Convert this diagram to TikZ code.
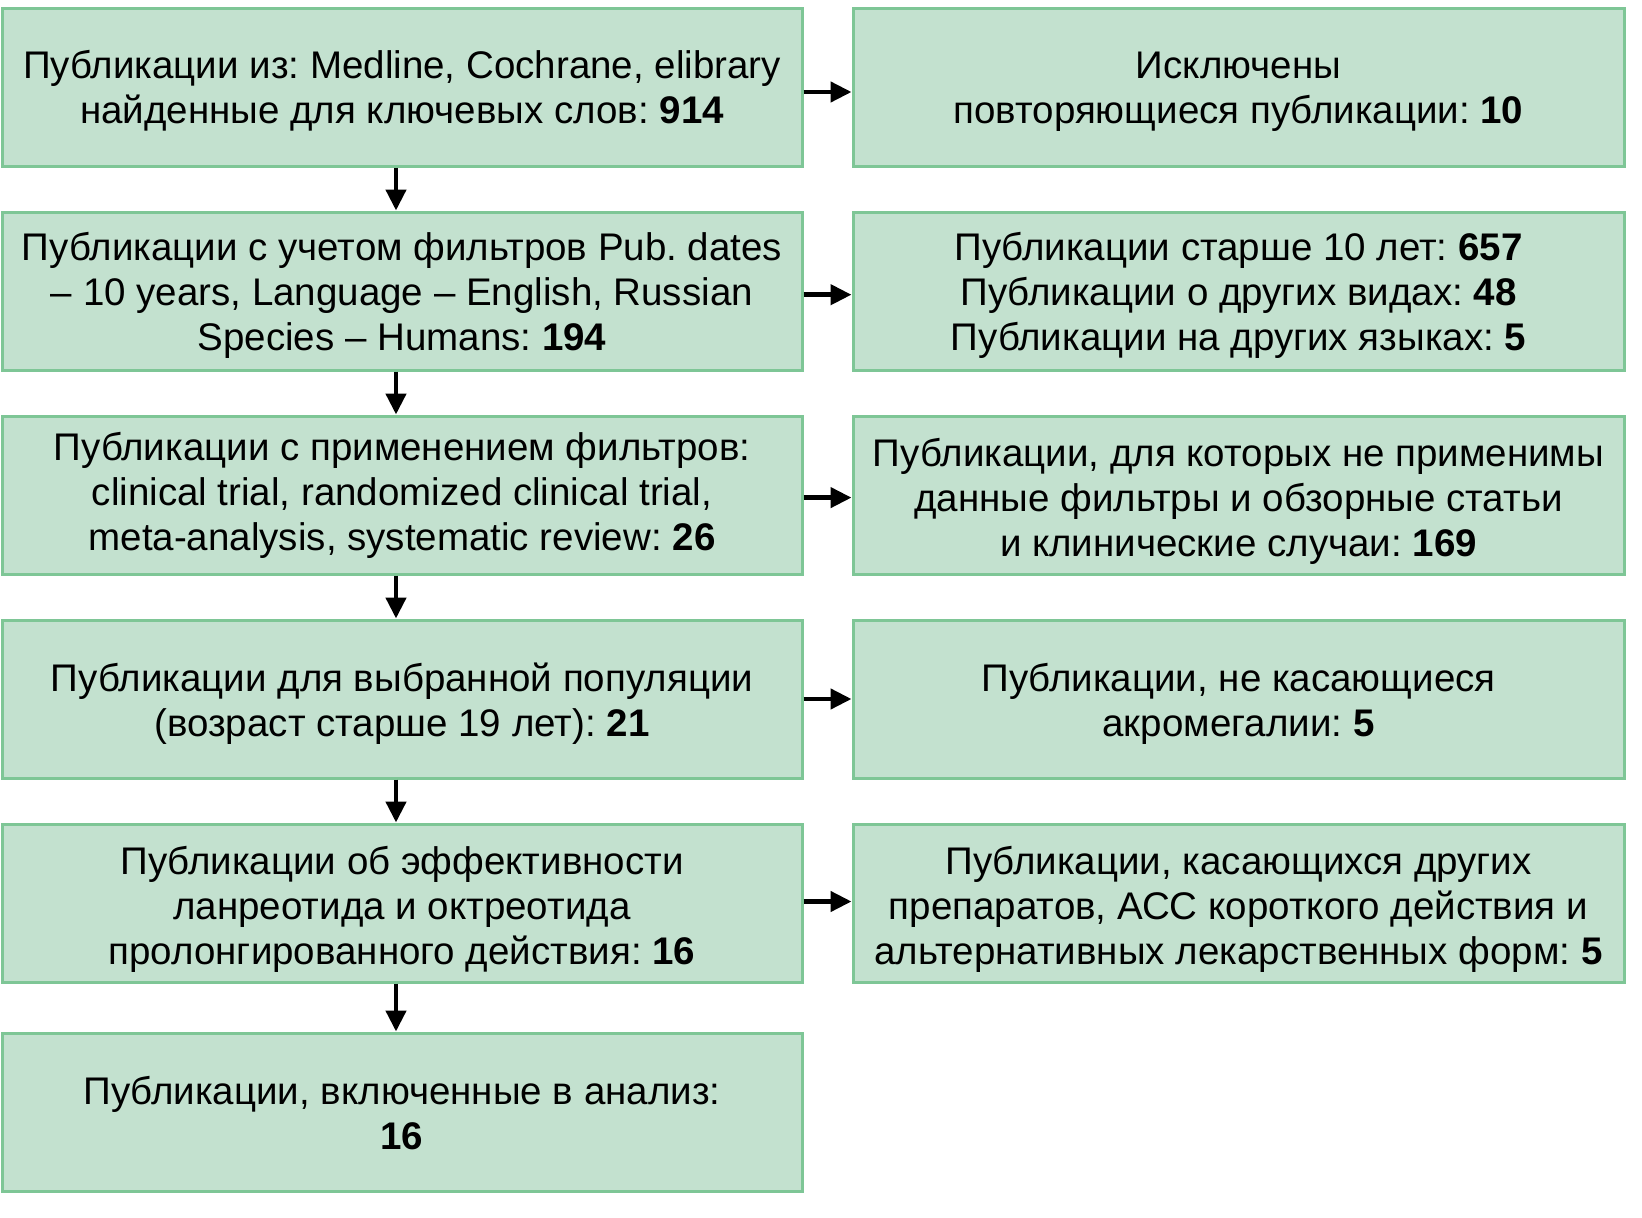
\documentclass[tikz,border=0pt]{standalone}
\usepackage{fontspec}
\setmainfont{Liberation Sans}
\frenchspacing
\usetikzlibrary{arrows.meta}
\definecolor{boxfill}{HTML}{C3E1CF}
\definecolor{boxline}{HTML}{7EC696}
\begin{document}
\begin{tikzpicture}[x=1pt,y=-1pt,
  box/.style={draw=boxline, fill=boxfill, line width=3pt, inner sep=0pt},
  lbox/.style={box, minimum width=800pt, minimum height=158pt},
  rbox/.style={box, minimum width=771pt, minimum height=158pt},
  txt/.style={align=center, inner sep=0pt, font=\fontsize{38.5}{45}\selectfont},
  arr/.style={line width=4.5pt, -{Triangle[length=21pt,width=20pt]}}]
\useasboundingbox (0,0) rectangle (1642,1218);
\foreach \n/\y in {1/87,2/291,3/495,4/699,5/903,6/1112}{
  \node[lbox] (l\n) at (402,\y) {};
}
\foreach \n/\y in {1/87,2/291,3/495,4/699,5/903}{
  \node[rbox] (r\n) at (1238.5,\y) {};
}
\node[txt] (l1t) at ([yshift=-3.5pt]l1.center) {Публикации из: Medline, Cochrane, elibrary\\найденные для ключевых слов: \textbf{914}};
\node[txt] (l2t) at ([yshift=-4.5pt]l2.center) {Публикации с учетом фильтров Pub. dates\\– 10 years, Language – English, Russian\\Species – Humans: \textbf{194}};
\node[txt] (l3t) at ([yshift=0pt]l3.center) {Публикации с применением фильтров:\\clinical trial, randomized clinical trial,\\meta-analysis, systematic review: \textbf{26}};
\node[txt] (l4t) at ([yshift=-4.5pt]l4.center) {Публикации для выбранной популяции\\(возраст старше 19 лет): \textbf{21}};
\node[txt] (l5t) at ([yshift=-6pt]l5.center) {Публикации об эффективности\\ланреотида и октреотида\\пролонгированного действия: \textbf{16}};
\node[txt] (l6t) at ([yshift=-1.5pt]l6.center) {Публикации, включенные в анализ:\\\textbf{16}};
\node[txt] (r1t) at ([yshift=-5pt]r1.center) {Исключены\\повторяющиеся публикации: \textbf{10}};
\node[txt] (r2t) at ([yshift=-4.5pt]r2.center) {Публикации старше 10 лет: \textbf{657}\\Публикации о других видах: \textbf{48}\\Публикации на других языках: \textbf{5}};
\node[txt] (r3t) at ([yshift=-6pt]r3.center) {Публикации, для которых не применимы\\данные фильтры и обзорные статьи\\и клинические случаи: \textbf{169}};
\node[txt] (r4t) at ([yshift=-4.5pt]r4.center) {Публикации, не касающиеся\\акромегалии: \textbf{5}};
\node[txt] (r5t) at ([yshift=-6pt]r5.center) {Публикации, касающихся других\\препаратов, АСС короткого действия и\\альтернативных лекарственных форм: \textbf{5}};
\foreach \i/\s in {1/-5,2/-3.7,3/-2.6,4/0,5/1.5}{
  \draw[arr] ([yshift=\s pt]l\i.east) -- ([yshift=\s pt]r\i.west);
}
\foreach \i/\j in {1/2,2/3,3/4,4/5,5/6}{
  \draw[arr] ([xshift=-6pt]l\i.south) -- ([xshift=-6pt]l\j.north);
}
\end{tikzpicture}
\end{document}
